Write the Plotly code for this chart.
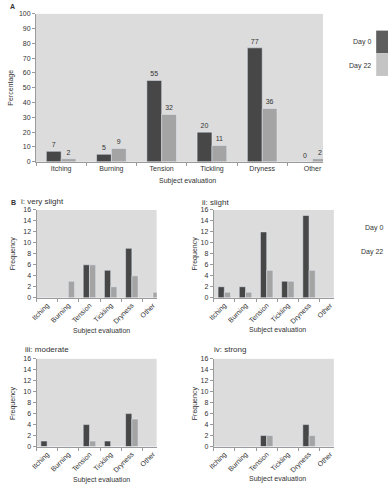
import plotly.graph_objects as go

W, H = 388, 485
categories = ["Itching", "Burning", "Tension", "Tickling", "Dryness", "Other"]

# Panel A (percentage)
a_day0 = [7, 5, 55, 20, 77, 0]
a_day22 = [2, 9, 32, 11, 36, 2]

# Panel B (frequency)
b_titles = ["i: very slight", "ii: slight", "iii: moderate", "iv: strong"]
b_day0 = [
    [0, 0, 6, 5, 9, 0],
    [2, 2, 12, 3, 15, 0],
    [1, 0, 4, 1, 6, 0],
    [0, 0, 2, 0, 4, 0],
]
b_day22 = [
    [0, 3, 6, 2, 4, 1],
    [1, 1, 5, 3, 5, 0],
    [0, 0, 1, 0, 5, 0],
    [0, 0, 2, 0, 2, 0],
]

DARK = "#474747"
LIGHT = "#a4a4a4"
BG = "#dcdcdc"
AX = "#9a9a9a"
TXT = "#333333"
FONT = "Liberation Sans, Arial, sans-serif"


def px(x):
    return x / W


def py(y):
    return 1 - y / H


fig = go.Figure()

# Panel A
fig.add_trace(go.Bar(x=categories, y=a_day0, name="Day 0", marker_color=DARK,
                     text=a_day0, textposition="outside", cliponaxis=False,
                     textfont=dict(size=7, color=TXT), xaxis="x", yaxis="y"))
fig.add_trace(go.Bar(x=categories, y=a_day22, name="Day 22", marker_color=LIGHT,
                     text=a_day22, textposition="outside", cliponaxis=False,
                     textfont=dict(size=7, color=TXT), xaxis="x", yaxis="y"))

# Panel B layout boxes (pixel coords: x0, x1, y_top, y_bottom)
boxes = [(31, 153, 209, 298), (211, 333, 209, 298), (31, 153, 360, 449), (211, 333, 360, 449)]

for i in range(4):
    xa = "x%d" % (i + 2)
    ya = "y%d" % (i + 2)
    fig.add_trace(go.Bar(x=categories, y=b_day0[i], name="Day 0", marker_color=DARK,
                         xaxis=xa, yaxis=ya, showlegend=False))
    fig.add_trace(go.Bar(x=categories, y=b_day22[i], name="Day 22", marker_color=LIGHT,
                         xaxis=xa, yaxis=ya, showlegend=False))

axis_common = dict(showgrid=False, zeroline=False, showline=True, linecolor=AX, linewidth=1,
                   ticks="outside", tickcolor=AX, ticklen=3)

layout = dict(
    width=W, height=H, margin=dict(l=0, r=0, t=0, b=0),
    paper_bgcolor="white", plot_bgcolor=BG, showlegend=False,
    barmode="group", bargap=0.41, bargroupgap=0,
    font=dict(family=FONT, size=7, color=TXT),
    xaxis=dict(domain=[px(30.5), px(322)], range=[-0.5, 5.21], type="category",
               categoryorder="array", categoryarray=categories, tickson="boundaries",
               anchor="y", tickfont=dict(size=7, color=TXT, family=FONT), **axis_common),
    yaxis=dict(domain=[py(160), py(10)], range=[0, 100], dtick=10, anchor="x",
               tickfont=dict(size=7, color=TXT, family=FONT), **axis_common),
)

for i, (x0, x1, yt, yb) in enumerate(boxes):
    n = i + 2
    layout["xaxis%d" % n] = dict(domain=[px(x0), px(x1)], range=[-0.5, 5.17], type="category",
                                 categoryorder="array", categoryarray=categories,
                                 tickson="boundaries", tickangle=-45, anchor="y%d" % n,
                                 tickfont=dict(size=7, color=TXT, family=FONT), **axis_common)
    layout["yaxis%d" % n] = dict(domain=[py(yb), py(yt)], range=[0, 16], dtick=2,
                                 anchor="x%d" % n,
                                 tickfont=dict(size=7, color=TXT, family=FONT), **axis_common)

fig.update_layout(**layout)

ann = []


def A(x, y, text, size=7, xanchor="center", yanchor="middle", angle=0, bold=False):
    ann.append(dict(x=px(x), y=py(y), xref="paper", yref="paper",
                    text=("<b>%s</b>" % text) if bold else text,
                    showarrow=False, xanchor=xanchor, yanchor=yanchor, textangle=angle,
                    font=dict(size=size, color=TXT, family=FONT)))


A(2, 3, "A", size=7, xanchor="left", bold=True)
A(3, 201, "B", size=7, xanchor="left", bold=True)
A(184, 180, "Subject evaluation")
A(5, 85, "Percentage", angle=-90)

# Panel titles
A(13, 200, b_titles[0], size=8, xanchor="left")
A(197, 201, b_titles[1], size=8, xanchor="left")
A(17, 351, b_titles[2], size=8, xanchor="left")
A(209, 351, b_titles[3], size=8, xanchor="left")

# axis titles B
for (xc, yc) in [(97, 332), (276, 331), (97, 483), (276, 482)]:
    A(xc, yc, "Subject evaluation")
for (xc, yc) in [(7, 253), (192, 253), (7, 405), (192, 405)]:
    A(xc, yc, "Frequency", angle=-90)

# Legends
A(373, 39, "Day 0", xanchor="right")
A(373, 63, "Day 22", xanchor="right")
A(385, 227, "Day 0", xanchor="right")
A(385, 252, "Day 22", xanchor="right")

shapes = [
    dict(type="rect", xref="paper", yref="paper", x0=px(376), x1=px(388), y0=py(50), y1=py(27),
         fillcolor="#5e5e5e", line=dict(width=0)),
    dict(type="rect", xref="paper", yref="paper", x0=px(376), x1=px(388), y0=py(73), y1=py(50),
         fillcolor="#c4c4c4", line=dict(width=0)),
]

fig.update_layout(annotations=ann, shapes=shapes)
fig.write_html("out.html")
